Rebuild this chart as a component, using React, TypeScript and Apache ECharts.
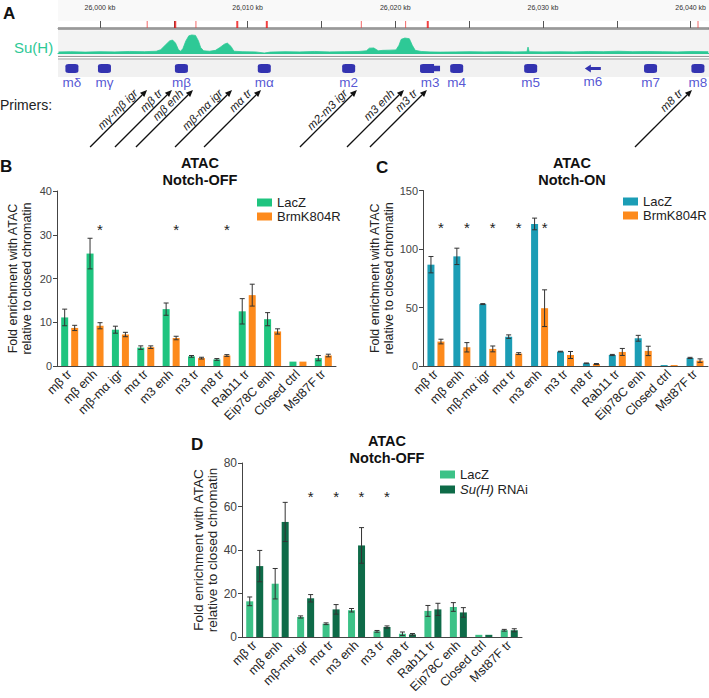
import React, { useEffect, useRef } from "react";
import * as echarts from "echarts";

// ---------- Panel A data ----------
const KB_MIN = 25997.16;
const KB_MAX = 26041.15;
const rulerLabels = [26000, 26010, 26020, 26030, 26040];
const rulerTicks = [26000, 26005, 26010, 26015, 26020, 26025, 26030, 26035, 26040];
const sitesMajor = [26005.1, 26009.3, 26011.3, 26022.2];
const sitesMinor = [26003.2, 26006.5, 26017.7, 26020.7, 26040.5];
const suhSignal: [number, number][] = [
  [25997.2, 0.5], [25998, 0.6], [25999, 0.4], [26000, 0.6], [26001, 0.5], [26002, 0.7], [26003, 0.6], [26003.8, 0.8],
  [26004.1, 1.5], [26004.4, 3.5], [26004.7, 5.5], [26004.9, 5.9], [26005.1, 4.5], [26005.3, 1.5], [26005.45, 0.8],
  [26005.6, 2.0], [26005.8, 5.5], [26006.0, 7.8], [26006.2, 8.2], [26006.45, 8.0], [26006.65, 5.5], [26006.8, 2.5],
  [26007.0, 1.0], [26007.4, 0.8], [26007.8, 1.2], [26008.1, 2.5], [26008.4, 4.0], [26008.6, 4.5], [26008.85, 3.0],
  [26009.05, 0.8], [26009.6, 0.6], [26010.5, 0.5], [26011.1, 0.0], [26011.5, 0.4], [26012.5, 0.6], [26013.5, 0.5],
  [26014.5, 0.7], [26015.5, 0.5], [26016.5, 0.6], [26017.5, 0.7], [26018.0, 1.0], [26018.2, 2.2], [26018.5, 2.3],
  [26018.8, 1.0], [26019.1, 1.2], [26019.6, 1.3], [26020.0, 1.4], [26020.2, 3.5], [26020.35, 6.2], [26020.6, 6.8],
  [26020.9, 6.5], [26021.1, 3.5], [26021.3, 1.2], [26021.7, 0.7], [26022.3, 0.5], [26023, 0.4], [26024, 0.5],
  [26025, 0.6], [26026, 0.5], [26027, 0.6], [26028, 0.5], [26028.85, 0.6], [26028.92, 2.7], [26029.0, 0.6],
  [26030, 0.5], [26031, 0.6], [26032, 0.5], [26033, 0.7], [26034, 0.6], [26035, 0.8], [26036, 0.6], [26037, 0.7],
  [26038, 0.6], [26039, 0.5], [26040, 0.7], [26041.1, 0.6],
];
const geneNames = ["mδ", "mγ", "mβ", "mα", "m2", "m3", "m4", "m5", "m6", "m7", "m8"];
const genePos = [25998.1, 26000.3, 26005.5, 26011.1, 26016.8, 26022.3, 26024.1, 26029.1, 26033.3, 26037.2, 26040.4];
const primerNames = ["mγ-mβ igr", "mβ tr", "mβ enh", "mβ-mα igr", "mα tr", "m2-m3 igr", "m3 enh", "m3 tr", "m8 tr"];
const primerPos = [26003.18, 26004.86, 26006.28, 26008.92, 26010.88, 26017.36, 26020.54, 26022.09, 26040.0];

// ---------- Bar chart data ----------
const categories = ["mβ tr", "mβ enh", "mβ-mα igr", "mα tr", "m3 enh", "m3 tr", "m8 tr", "Rab11 tr", "Eip78C enh", "Closed ctrl", "Mst87F tr"];

const bLacZ = [11.1, 25.7, 8.3, 4.2, 13.0, 2.2, 1.5, 12.5, 10.7, 1.0, 1.8];
const bLacZErr = [1.9, 3.5, 0.8, 0.4, 1.4, 0.2, 0.2, 2.9, 1.5, 0, 0.6];
const bBrm = [8.7, 9.2, 7.2, 4.3, 6.4, 1.8, 2.4, 16.2, 7.9, 1.0, 2.4];
const bBrmErr = [0.6, 0.7, 0.5, 0.3, 0.4, 0.2, 0.2, 2.5, 0.6, 0, 0.3];
const bStars = ["mβ enh", "m3 enh", "m8 tr"];
const bStarLevel = 31.3;
const bTicks = { max: 40, interval: 10 };

const cLacZ = [86.6, 93.7, 52.9, 25.1, 121.4, 12.3, 2.3, 9.4, 23.7, 0.8, 6.9];
const cLacZErr = [7, 7, 0.4, 1.5, 5, 0.3, 0.3, 0.5, 2.5, 0, 0.5];
const cBrm = [20.9, 16.0, 14.6, 10.6, 49.4, 9.4, 1.7, 12.0, 12.9, 0.8, 4.6];
const cBrmErr = [2, 4, 2.5, 0.8, 15.7, 3, 0.4, 3, 4, 0, 1.5];
const cStars = ["mβ tr", "mβ enh", "mβ-mα igr", "mα tr", "m3 enh"];
const cStarLevel = 118;
const cTicks = { max: 150, interval: 50 };

const dLacZ = [16.4, 24.5, 9.2, 6.1, 12.3, 2.6, 1.5, 12.0, 13.8, 1.0, 3.1];
const dLacZErr = [2, 7, 0.5, 0.4, 0.8, 0.4, 0.8, 2.5, 2, 0, 0.4];
const dSuH = [32.6, 52.9, 17.8, 12.7, 42.1, 4.6, 1.2, 12.7, 11.3, 1.0, 3.1];
const dSuHErr = [7.2, 9, 1.7, 2.2, 8.2, 0.5, 0.4, 2.8, 2.2, 0, 0.7];
const dStars = ["mβ-mα igr", "mα tr", "m3 enh", "m3 tr"];
const dStarLevel = 64.4;
const dTicks = { max: 80, interval: 20 };

const FONT = "Liberation Sans, Arial, sans-serif";
const BAR_W = 7;
const BAR_GAP = 3;
const OFF = (BAR_W + BAR_GAP) / 2;

function errSeries(vals: number[], errs: number[], xi: number, offset: number) {
  return {
    type: "custom",
    xAxisIndex: xi,
    yAxisIndex: xi,
    z: 5,
    clip: false,
    data: vals.map((v, i) => [i, v, errs[i]]),
    renderItem: (params: any, api: any) => {
      const i = api.value(0), v = api.value(1), e = api.value(2);
      if (!e) return null;
      const c = api.coord([i, v]);
      const hi = api.coord([i, v + e])[1];
      const lo = api.coord([i, Math.max(0, v - e)])[1];
      const x = c[0] + offset;
      const st = { stroke: "#333", lineWidth: 1 };
      return {
        type: "group",
        children: [
          { type: "line", shape: { x1: x, y1: hi, x2: x, y2: lo }, style: st },
          { type: "line", shape: { x1: x - 2.5, y1: hi, x2: x + 2.5, y2: hi }, style: st },
          { type: "line", shape: { x1: x - 2.5, y1: lo, x2: x + 2.5, y2: lo }, style: st },
        ],
      };
    },
  };
}

function starSeries(names: string[], level: number, xi: number) {
  return {
    type: "custom",
    xAxisIndex: xi,
    yAxisIndex: xi,
    z: 6,
    clip: false,
    data: names.map((n) => [categories.indexOf(n), level]),
    renderItem: (params: any, api: any) => {
      const c = api.coord([api.value(0), api.value(1)]);
      return {
        type: "text",
        x: c[0] + OFF,
        y: c[1],
        style: { text: "*", x: 0, y: 0, align: "center", verticalAlign: "middle", font: `15px ${FONT}`, fill: "#222" },
      };
    },
  };
}

function barSeries(name: string, vals: number[], xi: number, color: string) {
  return {
    type: "bar",
    name,
    xAxisIndex: xi,
    yAxisIndex: xi,
    data: vals,
    barWidth: BAR_W,
    barGap: `${(BAR_GAP / BAR_W) * 100}%`,
    itemStyle: { color },
  };
}

function catAxis(gi: number) {
  return {
    type: "category",
    gridIndex: gi,
    data: categories,
    axisLine: { lineStyle: { color: "#444", width: 1 } },
    axisTick: { alignWithLabel: true, length: 4, lineStyle: { color: "#444" } },
    axisLabel: { rotate: 45, interval: 0, fontSize: 12.5, color: "#222", fontFamily: FONT, margin: 6 },
  };
}

function valAxis(gi: number, t: { max: number; interval: number }, gap: number, fs: number) {
  return {
    type: "value",
    gridIndex: gi,
    min: 0,
    max: t.max,
    interval: t.interval,
    splitLine: { show: false },
    axisLine: { show: true, lineStyle: { color: "#444", width: 1 } },
    axisTick: { show: true, length: 4, lineStyle: { color: "#444" } },
    axisLabel: { fontSize: fs, color: "#444", fontFamily: FONT, margin: 5 },
    name: "Fold enrichment with ATAC\nrelative to closed chromatin",
    nameLocation: "middle",
    nameGap: gap,
    nameTextStyle: { fontSize: fs + 1.5, lineHeight: 14, color: "#222", fontFamily: FONT },
  };
}

function trackX(gi: number, extra: any = {}) {
  return { type: "value", gridIndex: gi, min: KB_MIN, max: KB_MAX, show: false, splitLine: { show: false }, ...extra };
}
function trackY(gi: number, max: number) {
  return { type: "value", gridIndex: gi, min: 0, max, show: false, splitLine: { show: false } };
}

export default function App() {
  const ref = useRef<HTMLDivElement>(null);
  useEffect(() => {
    document.body.style.margin = "0";
    const chart = echarts.init(ref.current!, null, { renderer: "svg" });
    const legendFmt = (n: string) => {
      const s = n.split("|")[0];
      return s === "Su(H) RNAi" ? "{i|Su(H)} RNAi" : s;
    };
    const legendBase = {
      orient: "vertical",
      icon: "rect",
      itemWidth: 15,
      itemHeight: 8,
      itemGap: 1,
      formatter: legendFmt,
      textStyle: { fontSize: 13, color: "#222", fontFamily: FONT, rich: { i: { fontStyle: "italic", fontSize: 13, fontFamily: FONT } } },
      selectedMode: false,
    };
    const text = (x: number, y: number, s: string, font: string, fill = "#111", align = "left") => ({
      type: "text",
      x,
      y,
      style: { text: s, x: 0, y: 0, font, fill, align, verticalAlign: "middle" },
    });
    const hline = (y: number, color: string, w: number) => ({
      type: "line",
      shape: { x1: 58, y1: y, x2: 709, y2: y },
      style: { stroke: color, lineWidth: w },
    });
    const geneSymbol = (n: string) =>
      n === "m6"
        ? "path://M0,5 L6,0 L6,3 L16,3 L16,7 L6,7 L6,10 Z"
        : n === "m3"
        ? "path://M0,2 Q0,0 3,0 L14,0 L14,2 L20,2 L20,8 L14,8 L14,10 L3,10 Q0,10 0,8 Z"
        : "roundRect";
    const geneSize = (n: string) => (n === "m6" ? [16, 8] : n === "m3" ? [20, 9] : [13, 9]);

    const option: any = {
      animation: false,
      backgroundColor: "#fff",
      textStyle: { fontFamily: FONT },
      grid: [
        { left: 58, width: 651, top: 21, height: 7 },
        { left: 58, width: 651, top: 31, height: 22 },
        { left: 58, width: 651, top: 61, height: 15 },
        { left: 58, width: 651, top: 90, height: 57 },
        { left: 57, width: 279, top: 191, height: 175 },
        { left: 423, width: 285, top: 190.5, height: 175.5 },
        { left: 242, width: 280, top: 463, height: 174 },
      ],
      xAxis: [
        trackX(0, {
          show: true,
          position: "top",
          axisLine: { show: true, lineStyle: { color: "#999", width: 1 } },
          axisTick: { show: true, length: 7, customValues: rulerTicks, lineStyle: { color: "#555" } },
          axisLabel: {
            show: true,
            customValues: rulerLabels,
            fontSize: 7,
            color: "#333",
            margin: 10,
            formatter: (v: number) => `${v.toLocaleString("en-US")} kb`,
          },
        }),
        trackX(1, {
          show: true,
          axisLine: { show: true, onZero: false, lineStyle: { color: "#2ec996", width: 1 } },
          axisTick: { show: false },
          axisLabel: { show: false },
        }),
        trackX(2),
        trackX(3),
        catAxis(4),
        catAxis(5),
        catAxis(6),
      ],
      yAxis: [
        trackY(0, 1),
        trackY(1, 10),
        trackY(2, 1),
        trackY(3, 1),
        valAxis(4, bTicks, 23, 11),
        valAxis(5, cTicks, 19, 11),
        { ...valAxis(6, dTicks, 22, 12), nameTextStyle: { fontSize: 13.5, lineHeight: 14.5, color: "#222", fontFamily: FONT } },
      ],
      legend: [
        { ...legendBase, left: 252, top: 191, data: ["LacZ|B", "BrmK804R|B"] },
        { ...legendBase, left: 618, top: 190, data: ["LacZ|C", "BrmK804R|C"] },
        { ...legendBase, left: 435, top: 463, itemGap: 2, data: ["LacZ|D", "Su(H) RNAi|D"] },
      ],
      graphic: [
        { type: "rect", shape: { x: 58, y: 0, width: 651, height: 21 }, style: { fill: "#f9f9f9" } },
        { type: "rect", shape: { x: 58, y: 29, width: 651, height: 27 }, style: { fill: "#f3f3f3" } },
        { type: "rect", shape: { x: 58, y: 60, width: 651, height: 17 }, style: { fill: "#f1f1f1" } },
        hline(28.5, "#8a8a8a", 2.5),
        hline(56.5, "#999", 1),
        hline(59, "#999", 1),
        text(3, 13, "A", `bold 17px ${FONT}`),
        text(14, 47, "Su(H)", `15px ${FONT}`, "#2ec996"),
        text(0, 105, "Primers:", `14px ${FONT}`, "#222"),
        text(0, 166, "B", `bold 17px ${FONT}`),
        text(376, 167, "C", `bold 17px ${FONT}`),
        text(191, 444, "D", `bold 17px ${FONT}`),
        text(200, 163, "ATAC", `bold 14.5px ${FONT}`, "#111", "center"),
        text(200, 180, "Notch-OFF", `bold 14.5px ${FONT}`, "#111", "center"),
        text(572, 163, "ATAC", `bold 14.5px ${FONT}`, "#111", "center"),
        text(572, 180, "Notch-ON", `bold 14.5px ${FONT}`, "#111", "center"),
        text(387, 441, "ATAC", `bold 14.5px ${FONT}`, "#111", "center"),
        text(387, 458, "Notch-OFF", `bold 14.5px ${FONT}`, "#111", "center"),
      ],
      series: [
        {
          type: "scatter",
          xAxisIndex: 0,
          yAxisIndex: 0,
          symbol: "rect",
          symbolSize: [2, 7],
          itemStyle: { color: "#e11" },
          data: sitesMajor.map((k) => [k, 0.5]),
        },
        {
          type: "scatter",
          xAxisIndex: 0,
          yAxisIndex: 0,
          symbol: "rect",
          symbolSize: [1, 7],
          itemStyle: { color: "#e44" },
          data: sitesMinor.map((k) => [k, 0.5]),
        },
        {
          type: "line",
          xAxisIndex: 1,
          yAxisIndex: 1,
          data: suhSignal,
          showSymbol: false,
          lineStyle: { color: "#2ec996", width: 0.8 },
          areaStyle: { color: "#2ec996", opacity: 1 },
        },
        {
          type: "scatter",
          xAxisIndex: 2,
          yAxisIndex: 2,
          data: geneNames.map((n, i) => ({
            value: [genePos[i], 0.5],
            name: n,
            symbol: geneSymbol(n),
            symbolSize: geneSize(n),
          })),
          itemStyle: { color: "#0404a0" },
          label: {
            show: true,
            position: "bottom",
            distance: 2,
            formatter: (p: any) => p.name,
            color: "#2a2ac8",
            fontSize: 13.5,
            fontFamily: FONT,
          },
        },
        {
          type: "custom",
          xAxisIndex: 3,
          yAxisIndex: 3,
          clip: false,
          data: primerPos.map((k) => [k, 1]),
          renderItem: (params: any, api: any) => {
            const name = primerNames[params.dataIndex];
            const tip = api.coord([api.value(0), 1]);
            const base = api.coord([api.value(0), 0]);
            const L = base[1] - tip[1];
            const tail = [tip[0] - L, base[1]];
            const ux = Math.SQRT1_2, uy = -Math.SQRT1_2;
            const head = 7, hw = 3;
            const bx = tip[0] - ux * head, by = tip[1] - uy * head;
            const px = -uy, py = ux;
            const d = 9;
            const ax = tip[0] - ux * d - px * 1.2, ay = tip[1] - uy * d - py * 1.2;
            return {
              type: "group",
              children: [
                { type: "line", shape: { x1: tail[0], y1: tail[1], x2: bx, y2: by }, style: { stroke: "#111", lineWidth: 1.3 } },
                {
                  type: "polygon",
                  shape: { points: [tip, [bx + px * hw, by + py * hw], [bx - px * hw, by - py * hw]] },
                  style: { fill: "#111" },
                },
                {
                  type: "text",
                  x: ax,
                  y: ay,
                  rotation: Math.PI / 4,
                  style: { text: name, x: 0, y: 0, align: "right", verticalAlign: "bottom", font: `italic 11.5px ${FONT}`, fill: "#222" },
                },
              ],
            };
          },
        },
        barSeries("LacZ|B", bLacZ, 4, "#1fc47f"),
        barSeries("BrmK804R|B", bBrm, 4, "#fd8a1c"),
        errSeries(bLacZ, bLacZErr, 4, -OFF),
        errSeries(bBrm, bBrmErr, 4, OFF),
        starSeries(bStars, bStarLevel, 4),
        barSeries("LacZ|C", cLacZ, 5, "#1b9db5"),
        barSeries("BrmK804R|C", cBrm, 5, "#fd8a1c"),
        errSeries(cLacZ, cLacZErr, 5, -OFF),
        errSeries(cBrm, cBrmErr, 5, OFF),
        starSeries(cStars, cStarLevel, 5),
        barSeries("LacZ|D", dLacZ, 6, "#3cc287"),
        barSeries("Su(H) RNAi|D", dSuH, 6, "#0e6b48"),
        errSeries(dLacZ, dLacZErr, 6, -OFF),
        errSeries(dSuH, dSuHErr, 6, OFF),
        starSeries(dStars, dStarLevel, 6),
      ],
    };
    chart.setOption(option);
    return () => chart.dispose();
  }, []);
  return <div ref={ref} style={{ width: 709, height: 698 }} />;
}
